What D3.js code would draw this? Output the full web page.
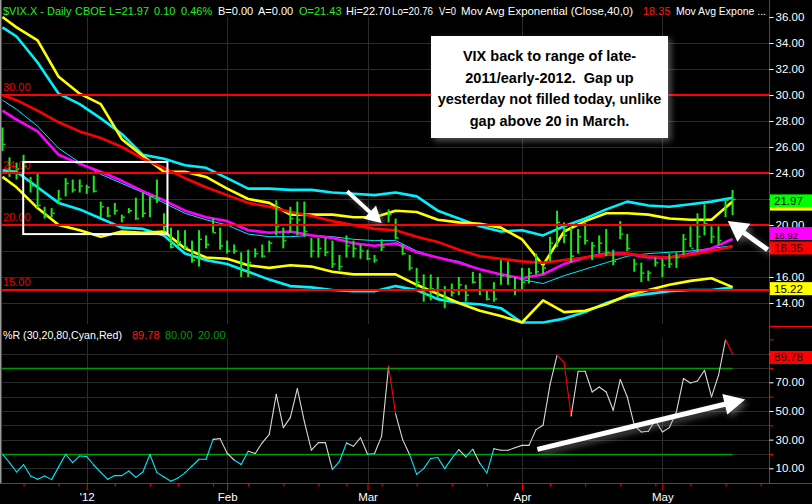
<!DOCTYPE html>
<html>
<head>
<meta charset="utf-8">
<script src="https://cdn.jsdelivr.net/npm/d3@7"></script>
<style>
  html, body { margin: 0; padding: 0; background: #000; }
  svg { display: block; font-family: "Liberation Sans", Arial, sans-serif; }
</style>
</head>
<body>
<svg id="chart" width="812" height="504"></svg>
<script>
// trading days on the chart
const decDays = [14,15,16,19,20,21,22,23,27,28,29,30];
const janDays = [3,4,5,6,9,10,11,12,13,17,18,19,20,23,24,25,26,27,30,31];
const febDays = [1,2,3,6,7,8,9,10,13,14,15,16,17,21,22,23,24,27,28,29];
const marDays = [1,2,5,6,7,8,9,12,13,14,15,16,19,20,21,22,23,26,27,28,29,30];
const aprDays = [2,3,4,5,9,10,11,12,13,16,17,18,19,20,23,24,25,26,27,30];
const mayDays = [1,2,3,4,7,8,9,10,11,14,15];
const futureDays = ["2012-05-16","2012-05-17","2012-05-18","2012-05-21","2012-05-22"];

// daily bars, $VIX.X
const highs = [27.5,25.2,24.8,25.4,23.7,24.0,21.4,21.3,22.7,23.6,23.5,23.5,23.1,23.8,21.8,21.4,21.7,20.8,21.3,22.1,
  22.5,22.2,23.5,20.9,19.8,19.6,19.6,18.8,19.6,19.2,20.5,19.8,18.8,18.5,17.9,18.1,18.2,18.5,18.8,21.9,
  19.8,21.4,21.8,21.8,19.0,19.0,19.0,18.8,17.7,19.2,18.8,18.5,18.1,17.7,18.9,21.2,20.5,18.5,17.7,16.7,
  16.2,16.2,16.0,15.3,15.5,16.0,15.4,16.4,16.3,15.0,15.6,17.3,17.2,16.0,16.7,16.7,17.8,16.9,19.1,21.1,
  20.2,19.8,19.7,20.2,18.7,19.2,19.7,18.1,20.3,19.3,17.4,17.1,16.5,17.5,17.4,17.8,17.9,19.3,19.9,20.9,
  21.6,19.9,19.9,22.0,22.70];
const lows = [25.7,23.7,23.5,24.1,22.5,21.3,20.5,20.6,21.6,22.2,22.5,22.5,22.4,22.5,20.6,20.6,20.8,20.2,20.9,20.4,
  20.6,20.6,21.7,19.5,18.2,18.3,18.1,17.1,16.8,18.2,19.4,18.1,17.8,17.8,16.0,16.0,17.5,17.5,17.9,19.2,
  18.2,19.4,19.2,19.1,17.5,17.5,17.6,16.7,16.5,17.5,17.5,17.4,17.3,17.1,18.0,20.2,18.9,17.7,16.5,15.2,
  14.1,14.2,14.4,13.6,14.5,14.6,14.1,15.5,14.6,14.2,14.1,15.4,15.4,14.6,15.0,15.5,16.2,16.2,17.2,18.3,
  18.6,17.1,17.8,18.5,17.3,17.8,17.6,16.9,18.9,18.0,16.4,15.6,15.7,16.8,16.0,16.7,16.7,17.7,18.3,17.9,
  19.2,18.6,18.5,20.6,20.76];
const closes = [26.2,24.2,24.3,24.5,23.0,21.5,20.7,20.9,22.0,23.2,22.7,23.0,22.9,22.6,21.4,20.7,21.1,20.6,21.1,20.5,
  20.9,22.2,22.0,19.9,18.3,18.7,18.3,17.3,18.9,18.5,19.4,18.4,18.0,18.0,17.1,17.1,17.8,17.6,18.6,19.9,
  18.8,20.5,20.4,19.5,18.0,18.2,17.9,17.0,16.8,18.4,18.2,18.0,17.4,17.3,18.3,20.8,19.0,17.8,16.7,15.6,
  14.7,15.1,15.0,14.3,14.8,15.4,14.6,15.6,15.0,14.3,14.3,16.1,16.0,15.0,15.6,16.3,16.4,16.7,18.6,20.2,
  19.2,17.6,19.1,18.8,18.4,18.6,17.9,17.2,19.3,18.2,17.0,16.3,16.3,17.1,16.9,17.0,17.5,18.9,18.2,19.1,
  20.1,19.1,18.8,21.9,21.97];

// overlay studies, read at these bar positions
const sampleIdx = [0,2,5,8,11,14,17,20,23,26,29,32,35,38,41,44,47,50,53,56,59,62,65,68,71,74,77,80,83,86,89,92,95,98,101,104];
const ema40 = [30.0,29.6,28.8,27.9,27.2,26.7,26.0,25.1,24.4,23.6,22.9,22.3,21.7,21.4,21.0,20.7,20.3,20.0,19.7,19.6,
  19.1,18.7,18.1,17.6,17.4,17.2,17.1,17.3,17.5,17.7,17.8,17.6,17.5,17.7,18.0,18.35];
const emaFast = [28.8,28.1,27.2,25.4,24.7,24.1,23.4,22.6,21.9,21.1,20.6,20.3,19.6,19.4,19.5,19.2,19.0,18.6,18.4,18.6,
  17.9,17.5,17.1,16.6,16.2,15.9,16.2,17.0,17.5,17.8,17.8,17.5,17.5,17.8,18.2,18.92];
const midLine = [29.6,28.9,27.6,25.9,24.8,23.9,23.2,22.5,21.7,20.9,20.4,20.0,19.3,19.1,19.1,19.2,19.1,18.9,18.8,18.8,
  18.0,17.5,17.2,16.6,16.2,15.8,15.5,16.1,16.6,17.1,17.6,17.8,17.9,18.0,18.2,18.4];
const cyanUpper = [35.2,34.5,32.5,30.1,29.3,28.2,27.0,25.4,25.1,24.6,24.4,23.6,22.8,22.8,22.7,22.7,22.5,22.4,22.3,22.5,
  22.2,21.1,20.5,19.9,19.5,19.6,19.2,19.9,20.5,21.2,21.8,21.5,21.4,21.6,21.8,22.1];
const cyanLower = [24.2,24.1,22.9,21.7,21.2,20.5,19.8,19.7,19.2,17.8,17.3,17.0,16.4,15.8,15.3,15.2,15.0,14.9,14.9,15.3,
  15.0,14.3,14.0,13.9,13.6,12.5,12.5,12.8,13.3,14.0,14.5,14.7,14.9,15.0,15.0,15.2];
const yellowUpper = [36.0,35.2,34.2,31.4,30.1,29.3,26.6,25.3,24.1,24.1,23.7,22.8,22.0,21.7,20.8,20.8,20.8,20.6,20.6,21.1,
  21.0,20.4,20.2,20.1,19.8,18.9,16.9,19.5,20.3,20.9,20.9,20.8,20.5,20.4,20.4,21.8];
const yellowLower = [23.7,22.9,21.3,20.0,19.6,19.1,19.5,19.4,19.5,18.2,17.5,17.4,16.9,16.7,16.9,16.8,16.4,16.2,16.2,16.2,
  15.4,14.7,14.0,13.4,13.0,12.5,14.2,13.3,13.4,13.9,14.6,15.0,15.4,15.7,15.9,15.22];

// %R (30)
const pctR = [19.8,14.0,7.4,12.6,4.6,2.3,4.6,2.1,11.0,19.8,14.0,18.6,18.2,12.3,7.2,2.3,4.9,4.9,8.1,3.7,
  7.4,19.6,7.0,3.9,0.9,3.3,6.8,11.6,16.3,16.3,30.2,30.7,20.5,15.8,12.6,21.9,20.3,27.8,33.7,61.6,
  38.4,45.4,65.6,42.6,22.6,27.9,27.9,9.1,14.9,27.7,25.4,31.4,19.8,20.3,32.3,81.2,48.0,30.0,19.5,5.8,
  9.8,16.8,17.5,9.8,16.9,23.0,17.9,23.3,13.4,6.7,23.7,22.6,22.6,24.4,26.0,26.0,37.0,40.0,68.6,88.9,
  83.8,46.5,77.7,77.7,63.2,66.7,63.2,50.5,71.9,59.8,40.0,35.3,35.8,43.5,35.3,38.4,49.3,72.6,69.5,70.9,
  78.4,59.8,74.9,99.8,89.78];

// axis values (18, 22 and 90 sit under the value tags, so only their ticks show)
const priceTicks = [14,16,18,20,22,24,26,28,30,32,34,36];
const priceLabels = [14,16,20,24,26,28,30,32,34,36];
const priceGrid = [14,16,18,20,22,24,26,28,30,32,34];
const levelLines = [30,24,20,15];
const pctTicks = [10,30,50,70,90];
const pctLabels = [10,30,50,70];
const pctMinor = [20,40,60,80,100];
const pctGrid = [10,20,30,40,50,60,70,80,90];
const pctBands = [20,80];

// last-value tags on the price scale
const tagValues = [21.8, 21.97, 18.92, 18.35, 15.22];
const tagColors = ["#ffff00", "#00ff00", "#ff00ff", "#ff0000", "#ffff00"];
const tagShown = [false, true, true, true, true];
const tagShift = [1, 0, -7, 0, 0];
const tagFont = [11.5, 11.5, 9.5, 11.5, 11.5];

const headerParts = [
  ["$VIX.X - Daily", 3, "#22ee22"], ["CBOE", 75, "#22ee22"], ["L=21.97", 109, "#22ee22"],
  ["0.10", 154, "#22ee22"], ["0.46%", 181, "#22ee22"], ["B=0.00", 218, "#fff"], ["A=0.00", 258, "#fff"],
  ["O=21.43", 299, "#22ee22"], ["Hi=22.70", 346, "#fff"], ["Lo=20.76", 392, "#fff", 41], ["V=0", 439, "#fff", 17],
  ["Mov Avg Exponential (Close,40,0)", 461, "#fff", 172], ["18.35", 643, "#ff1a1a"], ["Mov Avg Expone ...", 676, "#fff", 90]
];
const subParts = [["%R (30,20,80,Cyan,Red)", 3, "#fff", 119], ["89.78", 132, "#ff1a1a"], ["80.00", 165, "#009a00"], ["20.00", 198, "#009a00"]];

const noteLines = ["VIX back to range of late-", "2011/early-2012.  Gap up", "yesterday not filled today, unlike", "gap above 20 in March."];

const pad = n => (n < 10 ? "0" : "") + n;
const dates = [].concat(
  decDays.map(d => "2011-12-" + pad(d)),
  janDays.map(d => "2012-01-" + pad(d)),
  febDays.map(d => "2012-02-" + pad(d)),
  marDays.map(d => "2012-03-" + pad(d)),
  aprDays.map(d => "2012-04-" + pad(d)),
  mayDays.map(d => "2012-05-" + pad(d))
);
const axisDates = dates.concat(futureDays).map(d3.timeParse("%Y-%m-%d"));

const W = 812, AXIS_X = 769.5, BOTTOM = 483.5;
const svg = d3.select("#chart");

var x = d3.scaleLinear().domain([0, axisDates.length - 1]).range([2.5, 2.5 + 7.02 * (axisDates.length - 1)]);
var yPrice = d3.scaleLinear().domain([14, 36]).range([303, 17]);
var yPct = d3.scaleLinear().domain([10, 70]).range([468.3, 382.3]);

svg.append("rect").attr("width", W).attr("height", 504).attr("fill", "#000");

// month / week positions
var majorIdx = [], minorIdx = [];
axisDates.forEach(function(d, i) {
  if (i == 0) return;
  var prev = axisDates[i - 1];
  if (d.getMonth() != prev.getMonth()) majorIdx.push(i);
  else if (+d3.timeMonday.floor(d) != +d3.timeMonday.floor(prev)) minorIdx.push(i);
});

// grid
var grid = svg.append("g").attr("stroke", "#2b2b2b").attr("stroke-width", 1);
grid.selectAll(".hp").data(priceGrid).enter().append("line")
  .attr("x1", 2).attr("x2", AXIS_X)
  .attr("y1", d => Math.round(yPrice(d)) + 0.5).attr("y2", d => Math.round(yPrice(d)) + 0.5);
grid.selectAll(".hr").data(pctGrid).enter().append("line")
  .attr("x1", 2).attr("x2", AXIS_X)
  .attr("y1", d => Math.round(yPct(d)) + 0.5).attr("y2", d => Math.round(yPct(d)) + 0.5);
grid.selectAll(".vt").data(majorIdx).enter().append("line")
  .attr("x1", d => Math.round(x(d)) + 0.5).attr("x2", d => Math.round(x(d)) + 0.5)
  .attr("y1", 17).attr("y2", 324);
grid.selectAll(".vb").data(majorIdx).enter().append("line")
  .attr("x1", d => Math.round(x(d)) + 0.5).attr("x2", d => Math.round(x(d)) + 0.5)
  .attr("y1", 338).attr("y2", BOTTOM);

// overlay lines
var studyLine = d3.line().x(d => x(d[0])).y(d => yPrice(d[1]));
function pairs(vals) { return sampleIdx.map((i, k) => [i, vals[k]]); }
var studies = [
  { v: midLine, c: "#00e8ff", w: 1 },
  { v: cyanLower, c: "#00f0ff", w: 2.6 },
  { v: cyanUpper, c: "#00f0ff", w: 2.6 },
  { v: yellowLower, c: "#ffff00", w: 2.6 },
  { v: yellowUpper, c: "#ffff00", w: 2.6 },
  { v: emaFast, c: "#ff00ff", w: 2.6 },
  { v: ema40, c: "#ff0000", w: 2.6 }
];
svg.append("g").selectAll("path").data(studies).enter().append("path")
  .attr("fill", "none")
  .attr("stroke", d => d.c)
  .attr("stroke-width", d => d.w)
  .attr("stroke-linejoin", "round")
  .attr("d", d => studyLine(pairs(d.v)));

// price bars
var bars = svg.append("g").attr("fill", "#1fe51f");
bars.selectAll(".bar").data(dates).enter().append("rect")
  .attr("x", (d, i) => x(i) - 1).attr("width", 2)
  .attr("y", (d, i) => yPrice(highs[i]))
  .attr("height", (d, i) => Math.max(1, yPrice(lows[i]) - yPrice(highs[i])));
bars.selectAll(".tick").data(dates).enter().append("rect")
  .attr("x", (d, i) => x(i) + 1).attr("width", 2)
  .attr("y", (d, i) => yPrice(closes[i]) - 0.75).attr("height", 1.5);

// horizontal levels
svg.append("g").selectAll("line").data(levelLines).enter().append("line")
  .attr("x1", 2).attr("x2", AXIS_X)
  .attr("y1", d => yPrice(d)).attr("y2", d => yPrice(d))
  .attr("stroke", "#ff0000").attr("stroke-width", 2);
svg.append("g").selectAll("text").data(levelLines).enter().append("text")
  .attr("x", 3).attr("y", d => yPrice(d) - 4)
  .attr("fill", "#ee0000").attr("font-size", "11px")
  .text(d => d.toFixed(2));

// box round the early-2012 range
svg.append("rect")
  .attr("x", x(2.95)).attr("y", yPrice(24.85))
  .attr("width", x(23.5) - x(2.95)).attr("height", yPrice(19.3) - yPrice(24.85))
  .attr("fill", "none").attr("stroke", "#fff").attr("stroke-width", 2);

// %R panel
svg.append("g").selectAll("line").data(pctBands).enter().append("line")
  .attr("x1", 2).attr("x2", x(104))
  .attr("y1", d => Math.round(yPct(d)) + 0.5).attr("y2", d => Math.round(yPct(d)) + 0.5)
  .attr("stroke", "#009a00").attr("stroke-width", 1.5);

var segs = [];
for (var i = 0; i < pctR.length - 1; i++) {
  var c = pctR[i] > 80 ? "#ff0000" : (pctR[i] < 20 ? "#00e8ff" : "#d8d8d8");
  segs.push({ a: i, b: i + 1, c: c });
}
svg.append("g").selectAll("line").data(segs).enter().append("line")
  .attr("x1", d => x(d.a)).attr("y1", d => yPct(pctR[d.a]))
  .attr("x2", d => x(d.b)).attr("y2", d => yPct(pctR[d.b]))
  .attr("stroke", d => d.c).attr("stroke-width", 1.1).attr("stroke-linecap", "round");

// frame lines
svg.append("line").attr("x1", 0.75).attr("x2", 0.75).attr("y1", 0).attr("y2", BOTTOM)
  .attr("stroke", "#9a9a9a").attr("stroke-width", 1.5);
svg.append("line").attr("x1", AXIS_X).attr("x2", AXIS_X).attr("y1", 0).attr("y2", BOTTOM)
  .attr("stroke", "#ff0000");
svg.append("line").attr("x1", 0).attr("x2", W).attr("y1", BOTTOM).attr("y2", BOTTOM)
  .attr("stroke", "#ff0000");
svg.append("line").attr("x1", AXIS_X).attr("x2", W).attr("y1", 326.5).attr("y2", 326.5)
  .attr("stroke", "#ff0000");

// value axes
function styleAxis(g, tickColor) {
  g.select(".domain").remove();
  g.selectAll(".tick line").attr("stroke", tickColor);
  g.selectAll("text").attr("fill", "#fff").attr("font-size", "11.5px")
    .attr("font-family", "Liberation Sans, Arial, sans-serif");
}
function labelOnly(list) { return d => list.indexOf(d) >= 0 ? d.toFixed(2) : ""; }
svg.append("g").attr("transform", "translate(" + AXIS_X + ",0)")
  .call(d3.axisRight(yPrice).tickValues(priceTicks).tickFormat(labelOnly(priceLabels)).tickSize(4).tickPadding(2))
  .call(g => styleAxis(g, "#fff"));
svg.append("g").attr("transform", "translate(" + AXIS_X + ",0)")
  .call(d3.axisRight(yPct).tickValues(pctMinor).tickFormat("").tickSize(4))
  .call(g => styleAxis(g, "#ff0000"));
svg.append("g").attr("transform", "translate(" + AXIS_X + ",0)")
  .call(d3.axisRight(yPct).tickValues(pctTicks).tickFormat(labelOnly(pctLabels)).tickSize(4).tickPadding(2))
  .call(g => styleAxis(g, "#fff"));

// date axis
var monthFmt = d3.timeFormat("%b");
svg.append("g").attr("transform", "translate(0," + BOTTOM + ")")
  .call(d3.axisBottom(x).tickValues(minorIdx).tickFormat("").tickSize(3))
  .call(g => styleAxis(g, "#ff0000"));
svg.append("g").attr("transform", "translate(0," + BOTTOM + ")")
  .call(d3.axisBottom(x).tickValues(majorIdx).tickSize(7).tickPadding(2)
    .tickFormat(i => axisDates[i].getMonth() == 0 ? "'" + d3.timeFormat("%y")(axisDates[i]) : monthFmt(axisDates[i])))
  .call(g => styleAxis(g, "#ff0000"));

// last value tags
var tags = svg.append("g");
tagValues.forEach(function(v, k) {
  var ty = yPrice(v) + tagShift[k];
  tags.append("rect").attr("x", 770).attr("y", ty - 5).attr("width", 42).attr("height", 13)
    .attr("fill", tagColors[k]);
  if (tagShown[k])
    tags.append("text").attr("x", 774).attr("y", ty + 5.5 + (k == 2 ? 1.5 : 0)).attr("font-size", tagFont[k] + "px")
      .attr("fill", "#000").text(v.toFixed(2));
});
var lastR = pctR[pctR.length - 1];
tags.append("rect").attr("x", 770).attr("y", yPct(lastR) - 3).attr("width", 42).attr("height", 13).attr("fill", "#ff0000");
tags.append("text").attr("x", 774).attr("y", yPct(lastR) + 7.5).attr("font-size", "11.5px")
  .attr("fill", "#000").text(lastR.toFixed(2));

// study titles
function writeParts(parts, y) {
  svg.append("g").selectAll("text").data(parts).enter().append("text")
    .attr("x", d => d[1]).attr("y", y).attr("fill", d => d[2])
    .attr("font-size", "11px")
    .attr("textLength", d => d[3] || null)
    .attr("lengthAdjust", "spacingAndGlyphs")
    .text(d => d[0]);
}
writeParts(headerParts, 15);
writeParts(subParts, 339);

// annotation
var defs = svg.append("defs");
var sh = defs.append("filter").attr("id", "shadow").attr("x", "-20%").attr("y", "-20%").attr("width", "150%").attr("height", "150%");
sh.append("feDropShadow").attr("dx", 3).attr("dy", 3).attr("stdDeviation", 3)
  .attr("flood-color", "#9a9a9a").attr("flood-opacity", 0.55);

svg.append("rect").attr("x", 431).attr("y", 36).attr("width", 237).attr("height", 102)
  .attr("fill", "#fff").attr("filter", "url(#shadow)");
svg.append("g").selectAll("text").data(noteLines).enter().append("text")
  .attr("x", 549.5).attr("y", (d, i) => 61 + i * 21.5)
  .attr("text-anchor", "middle").attr("font-size", "14.5px").attr("font-weight", "bold")
  .style("white-space", "pre")
  .attr("fill", "#000").text(d => d);

function arrowPath(x1, y1, x2, y2, shaft, headLen, headW) {
  var dx = x2 - x1, dy = y2 - y1, len = Math.sqrt(dx * dx + dy * dy);
  var ux = dx / len, uy = dy / len, px = -uy, py = ux;
  var bx = x2 - ux * headLen, by = y2 - uy * headLen;
  var p = [
    [x1 + px * shaft / 2, y1 + py * shaft / 2],
    [bx + px * shaft / 2, by + py * shaft / 2],
    [bx + px * headW / 2, by + py * headW / 2],
    [x2, y2],
    [bx - px * headW / 2, by - py * headW / 2],
    [bx - px * shaft / 2, by - py * shaft / 2],
    [x1 - px * shaft / 2, y1 - py * shaft / 2]
  ];
  return "M" + p.map(q => q[0].toFixed(1) + "," + q[1].toFixed(1)).join("L") + "Z";
}
var arrows = [
  { from: [x(49.1), yPrice(22.6)], to: [x(54.0), yPrice(20.15)], s: 4, hl: 16, hw: 18 },
  { from: [x(109.0), yPrice(18.1)], to: [x(103.3), yPrice(20.3)], s: 5, hl: 20, hw: 22 },
  { from: [x(76.2), yPct(23.2)], to: [x(105.8), yPct(58.1)], s: 5, hl: 21, hw: 21 }
];
svg.append("g").selectAll("path").data(arrows).enter().append("path")
  .attr("d", d => arrowPath(d.from[0], d.from[1], d.to[0], d.to[1], d.s, d.hl, d.hw))
  .attr("fill", "#fff").attr("filter", "url(#shadow)");
</script>
</body>
</html>
